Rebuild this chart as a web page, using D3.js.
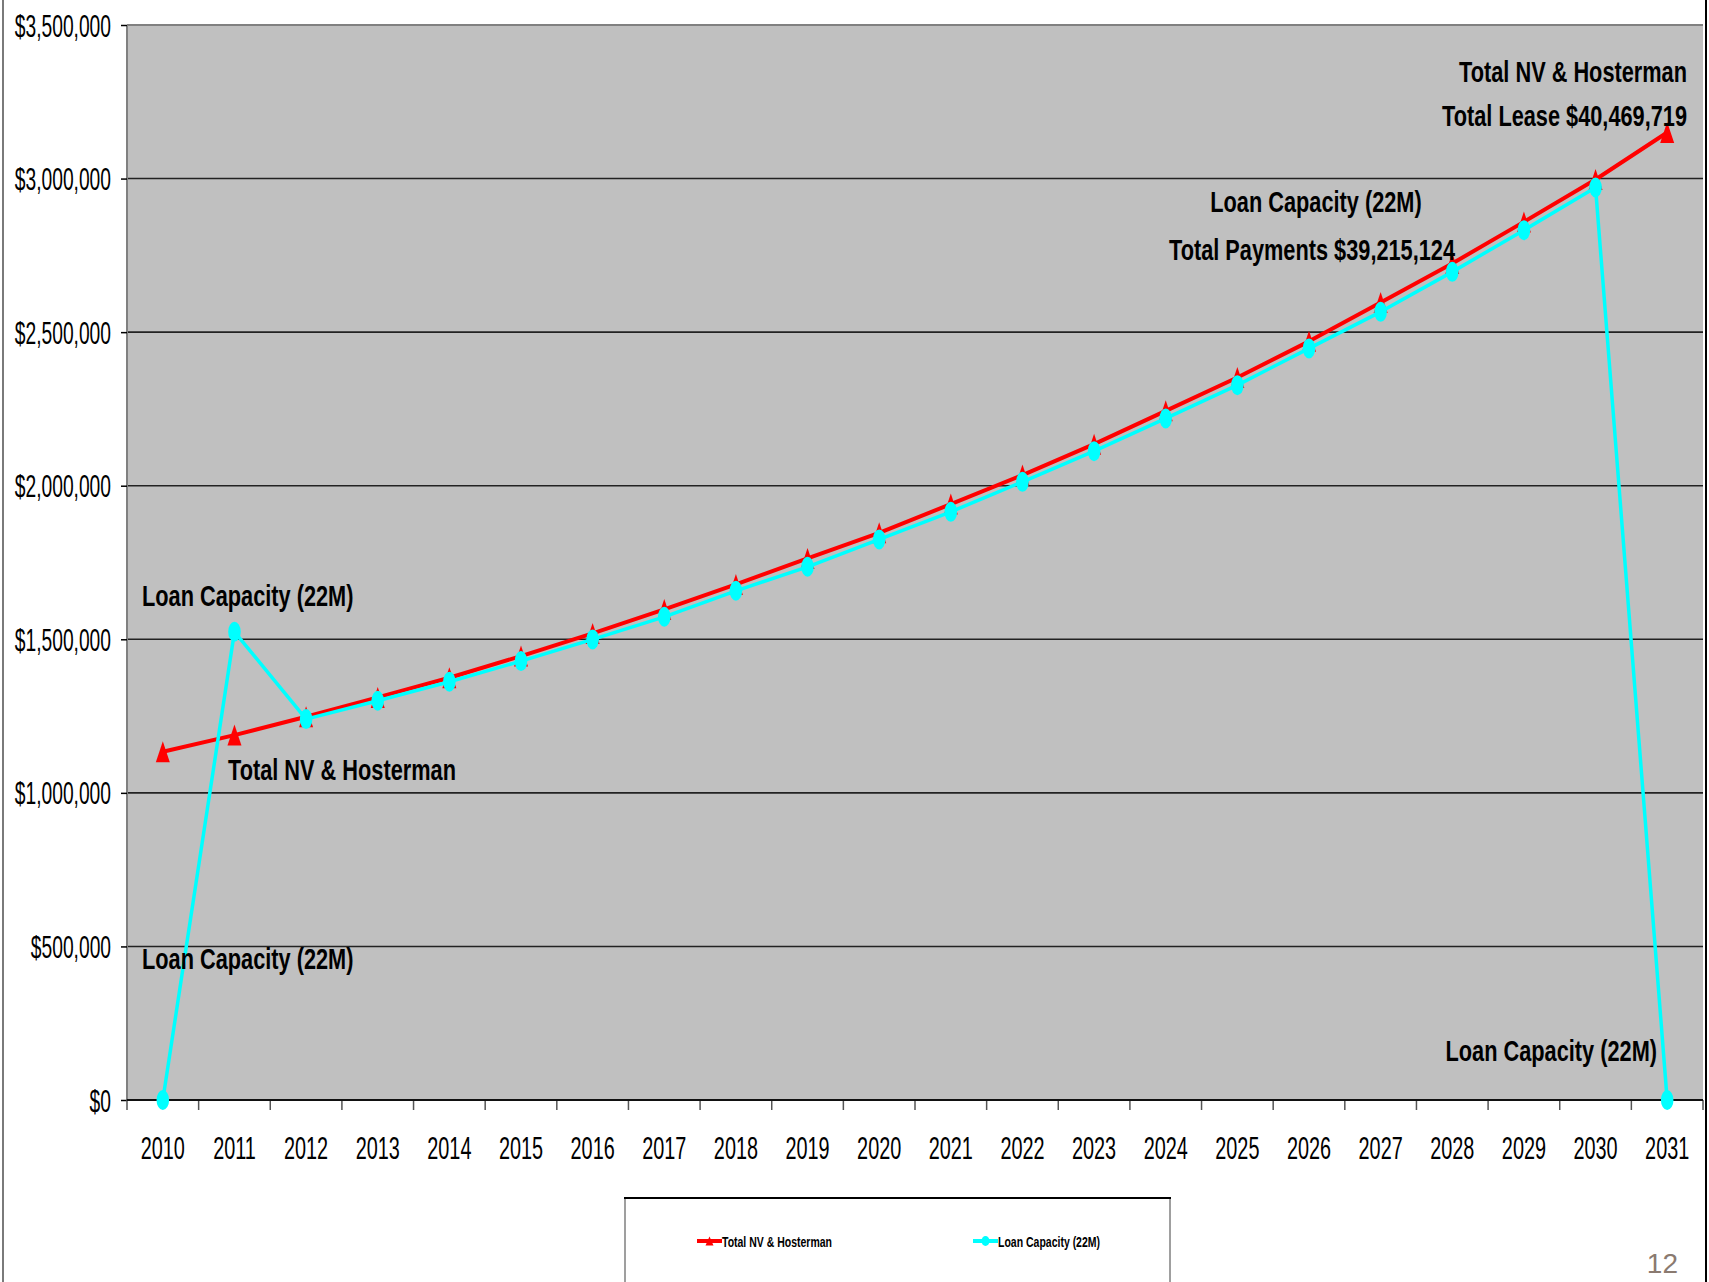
<!DOCTYPE html>
<html>
<head>
<meta charset="utf-8">
<script src="https://cdn.jsdelivr.net/npm/d3@7"></script>
<style>
  html, body { margin: 0; padding: 0; background: #fff; }
  svg { display: block; }
  text { font-family: "Liberation Sans", Arial, Helvetica, sans-serif; }
</style>
</head>
<body>
<svg id="chart" width="1709" height="1282"></svg>
<script>
// Years on the category axis
const years = ["2010","2011","2012","2013","2014","2015","2016","2017","2018","2019","2020",
               "2021","2022","2023","2024","2025","2026","2027","2028","2029","2030","2031"];

// Annual lease cost, Total NV & Hosterman
const totalNV = [1133800, 1188100, 1247700, 1310800, 1374700, 1445300, 1519200, 1597300,
                 1678700, 1763300, 1846700, 1940100, 2034500, 2135400, 2243800, 2352500,
                 2470000, 2596700, 2723600, 2859000, 2997000, 3150000];

// Annual payment, Loan Capacity (22M)
const loanCapacity = [0, 1524400, 1240200, 1299800, 1361600, 1429000, 1499600, 1573200,
                      1657900, 1736000, 1825100, 1915000, 2012700, 2112600, 2219000, 2327500,
                      2447000, 2566100, 2696300, 2832000, 2971000, 0];

// Value axis ticks
const yTicks = [0, 500000, 1000000, 1500000, 2000000, 2500000, 3000000, 3500000];

const seriesNames = ["Total NV & Hosterman", "Loan Capacity (22M)"];
const seriesColors = ["#ff0000", "#00ffff"];

const svg = d3.select("#chart");

const plot = { left: 127, right: 1703, top: 25, bottom: 1100 };

const x = d3.scaleBand().domain(years).range([plot.left, plot.right]);
const y = d3.scaleLinear().domain([0, 3500000]).range([plot.bottom, plot.top]);
const cx = d => x(d) + x.bandwidth() / 2;

// Page frame lines
svg.append("line").attr("x1", 3).attr("x2", 3).attr("y1", 0).attr("y2", 1282)
  .attr("stroke", "#7a7a7a").attr("stroke-width", 2);
svg.append("line").attr("x1", 1706).attr("x2", 1706).attr("y1", 0).attr("y2", 1282)
  .attr("stroke", "#000").attr("stroke-width", 2);

// Plot background
svg.append("rect")
  .attr("x", plot.left).attr("y", plot.top)
  .attr("width", plot.right - plot.left).attr("height", plot.bottom - plot.top)
  .attr("fill", "#c0c0c0");

// Horizontal gridlines
svg.append("g").selectAll("line")
  .data(yTicks.filter(v => v > 0 && v < 3500000))
  .join("line")
  .attr("x1", plot.left).attr("x2", plot.right)
  .attr("y1", d => y(d)).attr("y2", d => y(d))
  .attr("stroke", "#222").attr("stroke-width", 1.6);

// Plot area border (top and left)
svg.append("line").attr("x1", plot.left).attr("x2", plot.right)
  .attr("y1", y(3500000)).attr("y2", y(3500000))
  .attr("stroke", "#808080").attr("stroke-width", 2);
svg.append("line").attr("x1", plot.left).attr("x2", plot.left)
  .attr("y1", plot.top).attr("y2", plot.bottom)
  .attr("stroke", "#808080").attr("stroke-width", 2);

// Y axis
const yAxis = svg.append("g")
  .attr("transform", `translate(${plot.left},0)`)
  .call(d3.axisLeft(y).tickValues(yTicks)
    .tickFormat(d => "$" + d3.format(",")(d)).tickSize(6).tickSizeOuter(0));
yAxis.select(".domain").remove();
yAxis.selectAll(".tick line").attr("stroke", "#000").attr("stroke-width", 1.5);
yAxis.selectAll(".tick text")
  .attr("x", null).attr("dy", null)
  .attr("transform", "translate(-16,11) scale(0.62,1)")
  .attr("font-size", 31).attr("fill", "#000").attr("text-anchor", "end");

// X axis: baseline, category boundary ticks and year labels
const boundaries = years.map(d => x(d)).concat([plot.right]);
svg.append("g").selectAll("line").data(boundaries).join("line")
  .attr("x1", d => d).attr("x2", d => d)
  .attr("y1", plot.bottom).attr("y2", plot.bottom + 10)
  .attr("stroke", "#555").attr("stroke-width", 1.5);
svg.append("line").attr("x1", plot.left).attr("x2", plot.right)
  .attr("y1", plot.bottom).attr("y2", plot.bottom)
  .attr("stroke", "#111").attr("stroke-width", 2);

const xAxis = svg.append("g")
  .attr("transform", `translate(0,${plot.bottom})`)
  .call(d3.axisBottom(x).tickSize(0).tickSizeOuter(0));
xAxis.select(".domain").remove();
xAxis.selectAll(".tick text")
  .attr("y", null).attr("dy", null)
  .attr("transform", "translate(0,59) scale(0.64,1)")
  .attr("font-size", 31).attr("fill", "#000").attr("text-anchor", "middle");

// Series: red line with triangles
const line = d3.line().x((d, i) => cx(years[i])).y(d => y(d));
const tri = (w, h) => `M0,${-h / 2}L${w / 2},${h / 2}L${-w / 2},${h / 2}Z`;

svg.append("path").datum(totalNV)
  .attr("d", line).attr("fill", "none")
  .attr("stroke", seriesColors[0]).attr("stroke-width", 4).attr("stroke-linejoin", "round");
svg.append("g").selectAll("path").data(totalNV).join("path")
  .attr("d", tri(14, 21))
  .attr("transform", (d, i) => `translate(${cx(years[i])},${y(d)})`)
  .attr("fill", seriesColors[0]);

// Series: cyan line with round markers
svg.append("path").datum(loanCapacity)
  .attr("d", line).attr("fill", "none")
  .attr("stroke", seriesColors[1]).attr("stroke-width", 3.5).attr("stroke-linejoin", "round");
svg.append("g").selectAll("ellipse").data(loanCapacity).join("ellipse")
  .attr("cx", (d, i) => cx(years[i])).attr("cy", d => y(d))
  .attr("rx", 6.3).attr("ry", 10)
  .attr("fill", seriesColors[1]);

// Annotations
const annotations = [
  { text: "Loan Capacity (22M)", x: 142, y: 606, anchor: "start" },
  { text: "Total NV & Hosterman", x: 228, y: 780, anchor: "start" },
  { text: "Loan Capacity (22M)", x: 142, y: 969, anchor: "start" },
  { text: "Loan Capacity (22M)", x: 1657, y: 1061, anchor: "end" },
  { text: "Total NV & Hosterman", x: 1687, y: 82, anchor: "end" },
  { text: "Total Lease $40,469,719", x: 1687, y: 126, anchor: "end" },
  { text: "Loan Capacity (22M)", x: 1316, y: 212, anchor: "middle" },
  { text: "Total Payments $39,215,124", x: 1312, y: 260, anchor: "middle" }
];
svg.append("g").selectAll("text").data(annotations).join("text")
  .attr("transform", d => `translate(${d.x},${d.y}) scale(0.75,1)`)
  .attr("text-anchor", d => d.anchor)
  .attr("font-size", 29).attr("font-weight", "bold").attr("fill", "#000")
  .text(d => d.text);

// Legend
const legend = svg.append("g");
legend.append("rect").attr("x", 625).attr("y", 1198).attr("width", 545).attr("height", 100)
  .attr("fill", "#fff").attr("stroke", "#808080").attr("stroke-width", 1.5);
legend.append("line").attr("x1", 624).attr("x2", 1171).attr("y1", 1198).attr("y2", 1198)
  .attr("stroke", "#000").attr("stroke-width", 2);

const legendItems = [
  { name: seriesNames[0], color: seriesColors[0], x0: 697, marker: "tri" },
  { name: seriesNames[1], color: seriesColors[1], x0: 973, marker: "dot" }
];
const ly = 1241;
legendItems.forEach(it => {
  legend.append("line").attr("x1", it.x0).attr("x2", it.x0 + 25)
    .attr("y1", ly).attr("y2", ly)
    .attr("stroke", it.color).attr("stroke-width", 4);
  if (it.marker === "tri") {
    legend.append("path").attr("d", tri(8, 9))
      .attr("transform", `translate(${it.x0 + 12.5},${ly})`).attr("fill", it.color);
  } else {
    legend.append("ellipse").attr("cx", it.x0 + 12.5).attr("cy", ly)
      .attr("rx", 4).attr("ry", 5).attr("fill", it.color);
  }
  legend.append("text")
    .attr("transform", `translate(${it.x0 + 25},${ly + 5.5}) scale(0.7,1)`)
    .attr("font-size", 15).attr("font-weight", "bold").attr("fill", "#000")
    .text(it.name);
});

// Page number
svg.append("text").attr("x", 1678).attr("y", 1273).attr("text-anchor", "end")
  .attr("font-size", 28).attr("fill", "#8a7a70").text("12");
</script>
</body>
</html>
